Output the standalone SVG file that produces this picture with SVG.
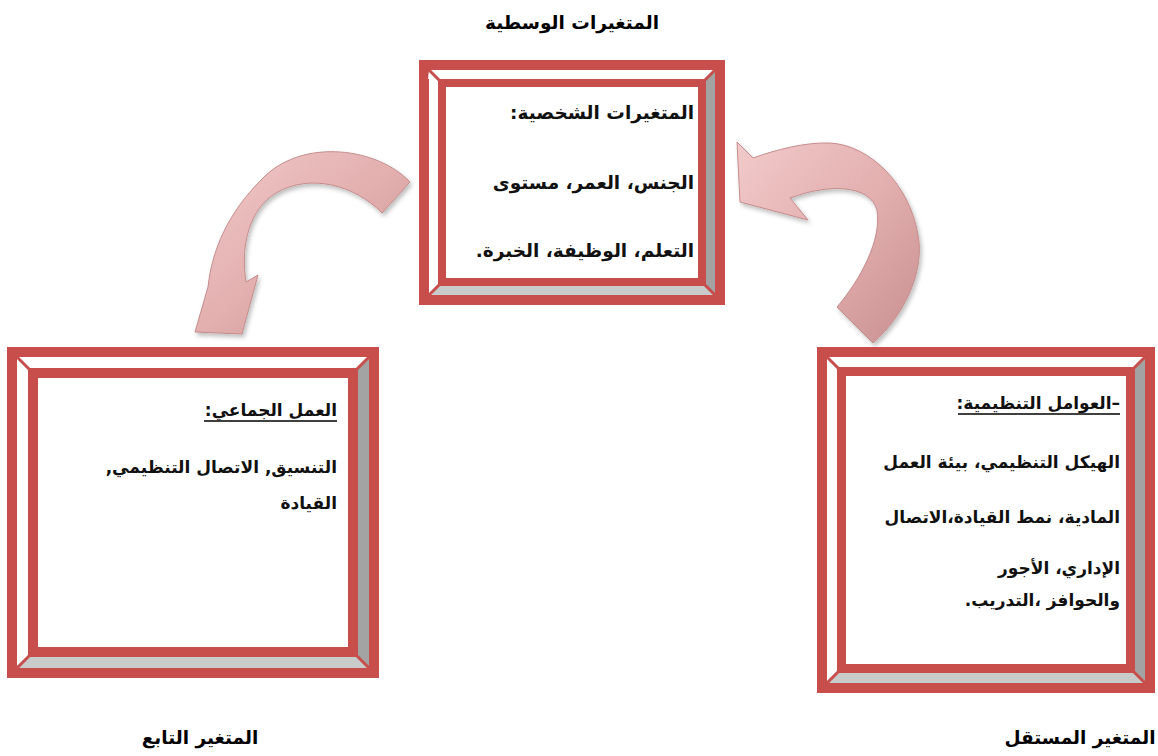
<svg xmlns="http://www.w3.org/2000/svg" width="1158" height="756" viewBox="0 0 1158 756">
<defs>
<linearGradient id="arrowGrad" x1="0" y1="0" x2="1" y2="1">
<stop offset="0" stop-color="#F2CACA"/>
<stop offset="0.5" stop-color="#E3AFAF"/>
<stop offset="1" stop-color="#C99090"/>
</linearGradient>
<filter id="shadow" x="-20%" y="-20%" width="140%" height="140%">
<feDropShadow dx="2" dy="3" stdDeviation="2" flood-color="#000" flood-opacity="0.25"/>
</filter>
</defs>
<style>
.red{fill:#C84E4C}
.bevL{fill:#FFFFFF}
.bevR{fill:#A3A3A3}
.bevB{fill:#C9CBCB}
.inner{fill:#FFFFFF}
.diag{stroke:#C84E4C;stroke-width:3}
.arrow{fill:url(#arrowGrad);stroke:#C68C8C;stroke-width:1;filter:url(#shadow)}
.t{font-family:"DejaVu Sans",sans-serif;font-weight:bold;font-size:17px;fill:#111;direction:rtl}
.tc{font-size:18.5px}
.lbl{font-family:"DejaVu Sans",sans-serif;font-weight:bold;font-size:18.5px;fill:#000;text-anchor:middle;direction:rtl}
.ul{stroke:#000;stroke-width:1.5}
</style>

<g id="connectors">
<path class="arrow" d="M 410,182 C 378,148 305,138 265,176 C 236,204 213,240 208,287 L 195,332 L 242,334 L 258,275 L 246,282 C 240,245 250,208 276,193 C 310,173 355,185 382,213 Z"/>
<path class="arrow" d="M 873,343 C 905,315 925,270 918,235 C 910,185 870,145 830,143 C 805,142 775,150 753,158 L 737,142 L 740,202 L 808,220 L 790,198 C 830,183 870,185 877,210 C 882,240 860,280 837,307 Z"/>
</g>

<g id="node-center">
<rect class="red" x="419" y="60" width="306" height="245"/>
<polygon class="bevL" points="429,70 715,70 706,79 428,79"/>
<polygon class="bevL" points="429,70 438,79 438,286 429,295"/>
<polygon class="bevR" points="715,70 715,295 706,286 706,79"/>
<polygon class="bevB" points="429,295 715,295 706,286 438,286"/>
<line class="diag" x1="429" y1="70" x2="440" y2="81"/>
<line class="diag" x1="715" y1="70" x2="704" y2="81"/>
<line class="diag" x1="429" y1="295" x2="440" y2="284"/>
<line class="diag" x1="715" y1="295" x2="704" y2="284"/>
<rect class="red" x="438" y="79" width="268" height="207"/>
<rect class="inner" x="446" y="87" width="252" height="191"/>
<text class="t tc" x="694" y="119">المتغيرات الشخصية:</text>
<text class="t tc" x="694" y="189">الجنس، العمر، مستوى</text>
<text class="t tc" x="694" y="257">التعلم، الوظيفة، الخبرة.</text>
</g>

<g id="node-left">
<rect class="red" x="7" y="347" width="372" height="331"/>
<polygon class="bevL" points="17,357 369,357 358,368 28,368"/>
<polygon class="bevL" points="17,357 28,368 28,657 17,668"/>
<polygon class="bevR" points="369,357 369,668 358,657 358,368"/>
<polygon class="bevB" points="17,668 369,668 358,657 28,657"/>
<line class="diag" x1="17" y1="357" x2="30" y2="370"/>
<line class="diag" x1="369" y1="357" x2="356" y2="370"/>
<line class="diag" x1="17" y1="668" x2="30" y2="655"/>
<line class="diag" x1="369" y1="668" x2="356" y2="655"/>
<rect class="red" x="28" y="368" width="330" height="289"/>
<rect class="inner" x="38" y="378" width="310" height="269"/>
<text class="t" x="337" y="416">العمل الجماعي:</text>
<line class="ul" x1="204" y1="421" x2="337" y2="421"/>
<text class="t" x="337" y="473">التنسيق, الاتصال التنظيمي,</text>
<text class="t" x="337" y="509">القيادة</text>
</g>

<g id="node-right">
<rect class="red" x="817" y="347" width="338" height="346"/>
<polygon class="bevL" points="827,357 1145,357 1135,367 837,367"/>
<polygon class="bevL" points="827,357 837,367 837,673 827,683"/>
<polygon class="bevR" points="1145,357 1145,683 1135,673 1135,367"/>
<polygon class="bevB" points="827,683 1145,683 1135,673 837,673"/>
<line class="diag" x1="827" y1="357" x2="839" y2="369"/>
<line class="diag" x1="1145" y1="357" x2="1133" y2="369"/>
<line class="diag" x1="827" y1="683" x2="839" y2="671"/>
<line class="diag" x1="1145" y1="683" x2="1133" y2="671"/>
<rect class="red" x="837" y="367" width="298" height="306"/>
<rect class="inner" x="846" y="376" width="280" height="288"/>
<text class="t" x="1120" y="409">–العوامل التنظيمية:</text>
<line class="ul" x1="958" y1="414" x2="1120" y2="414"/>
<text class="t" x="1120" y="468">الهيكل التنظيمي، بيئة العمل</text>
<text class="t" x="1120" y="523">المادية، نمط القيادة،الاتصال</text>
<text class="t" x="1120" y="574">الإداري، الأجور</text>
<text class="t" x="1120" y="606">والحوافز ،التدريب.</text>
</g>

<g id="labels">
<text class="lbl" x="572" y="29">المتغيرات الوسطية</text>
<text class="lbl" x="200" y="744">المتغير التابع</text>
<text class="lbl" x="1080" y="744">المتغير المستقل</text>
</g>
</svg>
